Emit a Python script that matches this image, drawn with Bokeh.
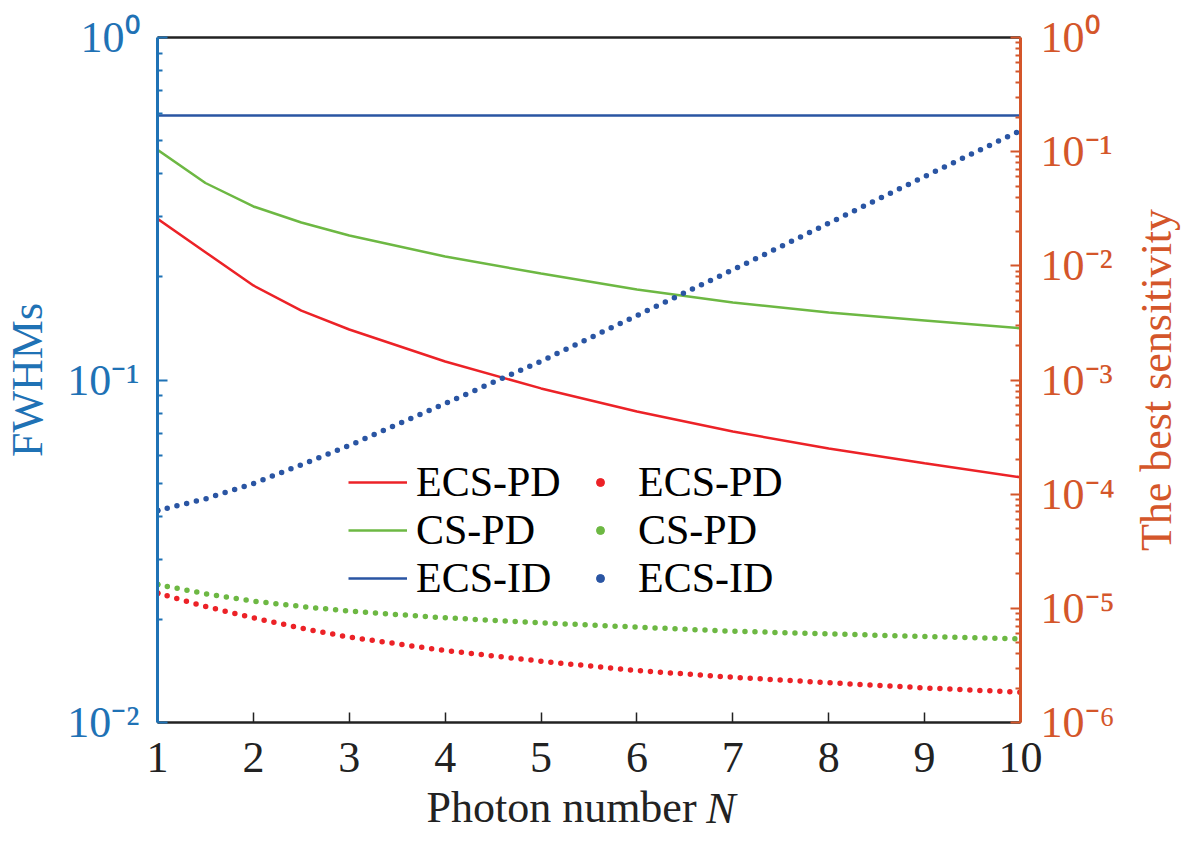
import math
from bokeh.plotting import figure
from bokeh.layouts import row
from bokeh.models import (Range1d, LogScale, LogAxis, LinearAxis, FixedTicker,
                          Legend, LegendItem, Label)
from bokeh.embed import file_html
from bokeh.resources import INLINE

# ---------------- data ----------------
photon_n = [1, 1.5, 2, 2.5, 3, 4, 5, 6, 7, 8, 9, 10]

# FWHMs (left axis)
fwhm_ecs_pd = [0.2956, 0.2361, 0.1888, 0.1595, 0.1404, 0.1132, 0.0945, 0.0809, 0.0707, 0.0631, 0.0571, 0.0520]
fwhm_cs_pd = [0.4700, 0.3760, 0.3211, 0.2884, 0.2642, 0.2294, 0.2046, 0.1837, 0.1683, 0.1574, 0.1492, 0.1416]
fwhm_ecs_id = [0.592, 0.592, 0.592, 0.592, 0.592, 0.592, 0.592, 0.592, 0.592, 0.592, 0.592, 0.592]

# best sensitivity (right axis)
sens_ecs_pd = [1.357e-5, 1.038e-5, 8.26e-6, 6.70e-6, 5.59e-6, 4.27e-6, 3.44e-6, 2.85e-6, 2.49e-6, 2.23e-6, 2.01e-6, 1.84e-6]
sens_cs_pd = [1.617e-5, 1.341e-5, 1.155e-5, 1.038e-5, 9.44e-6, 8.26e-6, 7.47e-6, 6.84e-6, 6.30e-6, 5.98e-6, 5.66e-6, 5.41e-6]
sens_ecs_id = [7.19e-5, 9.10e-5, 1.240e-4, 1.808e-4, 2.668e-4, 6.223e-4, 1.461e-3, 3.672e-3, 9.23e-3, 2.362e-2, 6.06e-2, 0.1532]

series_labels = ["ECS-PD", "CS-PD", "ECS-ID"]
x_ticks = [1, 2, 3, 4, 5, 6, 7, 8, 9, 10]
left_ticks = [1e-2, 1e-1, 1.0]
left_tick_labels = ["10\u207b\u00b2", "10\u207b\u00b9", "10\u2070"]
right_ticks = [1e-6, 1e-5, 1e-4, 1e-3, 1e-2, 1e-1, 1.0]
right_tick_labels = ["10\u207b\u2076", "10\u207b\u2075", "10\u207b\u2074", "10\u207b\u00b3",
                     "10\u207b\u00b2", "10\u207b\u00b9", "10\u2070"]
x_title = "Photon number"
x_title_var = "N"
left_title = "FWHMs"
right_title = "The best sensitivity"

# ---------------- style ----------------
FONT = "'Liberation Serif', serif"
FS = "44px"
LFS = "42px"
RED = "#EC2227"
GREEN = "#6DB843"
BLUE = "#2A55A3"
LEFT_C = "#1F72B5"
RIGHT_C = "#D4562A"
INK = "#222222"
NBSP = "\u00a0"

W_TOTAL = 1182
W_MAIN = 1117
W_RIGHT = W_TOTAL - W_MAIN
FRAME_L, FRAME_R, FRAME_T, FRAME_B = 154, 1020, 37, 722
H = 842

p = figure(width=W_MAIN, height=H, output_backend="svg", toolbar_location=None,
           x_range=Range1d(1, 10), y_range=Range1d(1e-2, 1.0),
           y_axis_type="log", y_axis_location="left",
           min_border_left=FRAME_L, min_border_right=W_MAIN - FRAME_R,
           min_border_top=FRAME_T, min_border_bottom=H - FRAME_B)
p.extra_y_ranges = {"sens": Range1d(1e-6, 1.0)}
p.extra_y_scales = {"sens": LogScale()}
p.grid.visible = False
p.outline_line_color = None
p.background_fill_color = "white"
p.border_fill_color = "white"

# x axis (bottom) -- title in roman, padded so it sits left of the italic N
xa = p.xaxis[0]
xa.ticker = FixedTicker(ticks=x_ticks)
xa.major_label_text_font = FONT
xa.major_label_text_font_size = FS
xa.major_label_text_color = INK
xa.axis_line_color = INK
xa.axis_line_width = 2.5
xa.major_tick_line_color = INK
xa.major_tick_line_width = 1.5
xa.major_tick_in = 10
xa.major_tick_out = 0
xa.minor_tick_line_color = None
xa.major_label_standoff = 20
xa.axis_label = x_title + NBSP * 5
xa.axis_label_text_font = FONT
xa.axis_label_text_font_size = FS
xa.axis_label_text_font_style = "normal"
xa.axis_label_text_color = INK
xa.axis_label_standoff = 8

# second (bare) bottom axis carrying the italic N on the same row
xb = LinearAxis(ticker=FixedTicker(ticks=[]))
xb.axis_line_color = None
xb.major_tick_line_color = None
xb.minor_tick_line_color = None
xb.major_label_text_font_size = "0px"
xb.major_label_standoff = 0
xb.axis_label = NBSP * 24 + x_title_var
xb.axis_label_text_font = FONT
xb.axis_label_text_font_size = FS
xb.axis_label_text_font_style = "italic"
xb.axis_label_text_color = INK
xb.axis_label_standoff = -51
p.add_layout(xb, "below")

# left axis
ya = p.yaxis[0]
left_minor = [k * 10.0 ** e for e in (-2, -1) for k in range(2, 10)]
ya.ticker = FixedTicker(ticks=left_ticks, minor_ticks=left_minor)
ya.major_label_overrides = dict(zip(left_ticks, left_tick_labels))
ya.major_label_text_font = FONT
ya.major_label_text_font_size = FS
ya.major_label_text_color = LEFT_C
ya.axis_line_color = LEFT_C
ya.axis_line_width = 3
ya.major_tick_line_color = LEFT_C
ya.major_tick_line_width = 2
ya.major_tick_in = 10
ya.major_tick_out = 0
ya.minor_tick_line_color = LEFT_C
ya.minor_tick_line_width = 2
ya.minor_tick_in = 5
ya.minor_tick_out = 0
ya.major_label_standoff = 18
ya.axis_label = left_title
ya.axis_label_text_font = FONT
ya.axis_label_text_font_size = FS
ya.axis_label_text_font_style = "normal"
ya.axis_label_text_color = LEFT_C
ya.axis_label_standoff = 12

# right axis
right_minor = [k * 10.0 ** e for e in range(-6, 0) for k in range(2, 10)]
ra = LogAxis(y_range_name="sens",
             ticker=FixedTicker(ticks=right_ticks, minor_ticks=right_minor))
ra.major_label_overrides = dict(zip(right_ticks, right_tick_labels))
ra.major_label_text_font = FONT
ra.major_label_text_font_size = FS
ra.major_label_text_color = RIGHT_C
ra.axis_line_color = RIGHT_C
ra.axis_line_width = 3
ra.major_tick_line_color = RIGHT_C
ra.major_tick_line_width = 2
ra.major_tick_in = 10
ra.major_tick_out = 0
ra.minor_tick_line_color = RIGHT_C
ra.minor_tick_line_width = 2
ra.minor_tick_in = 5
ra.minor_tick_out = 0
ra.major_label_standoff = 20
p.add_layout(ra, "right")

# top box line
ta = LinearAxis(ticker=FixedTicker(ticks=[]))
ta.axis_line_color = INK
ta.axis_line_width = 2.5
ta.major_tick_line_color = None
ta.minor_tick_line_color = None
ta.major_label_text_font_size = "0px"
p.add_layout(ta, "above")

# ---------------- curves ----------------
fwhm_series = [fwhm_ecs_pd, fwhm_cs_pd, fwhm_ecs_id]
sens_series = [sens_ecs_pd, sens_cs_pd, sens_ecs_id]
colors = [RED, GREEN, BLUE]

solid_r = []
dot_r = []
for vals, c in zip(fwhm_series, colors):
    solid_r.append(p.line(photon_n, vals, line_color=c, line_width=2.5))
for vals, c in zip(sens_series, colors):
    p.line(photon_n, vals, y_range_name="sens", line_color=c, line_width=5.5,
           line_dash="0 10", line_cap="round")
    # a dot at the first sample, used as the legend symbol
    dot_r.append(p.scatter(x=photon_n[:1], y=vals[:1], y_range_name="sens", marker="circle",
                           size=5.5, fill_color=c, line_color=c))

# ---------------- legends ----------------
def make_legend(items, loc, gw, standoff):
    return Legend(items=items, location=loc, orientation="vertical",
                  label_text_font=FONT, label_text_font_size=LFS,
                  label_text_color="black", glyph_width=gw, glyph_height=20,
                  label_standoff=standoff, padding=0, margin=0, spacing=0,
                  border_line_color=None, background_fill_alpha=0)

leg1 = make_legend([LegendItem(label=l, renderers=[r]) for l, r in zip(series_labels, solid_r)],
                   (191, 120), 59, 9)
leg2 = make_legend([LegendItem(label=l, renderers=[r]) for l, r in zip(series_labels, dot_r)],
                   (433, 120), 20, 28)
p.add_layout(leg1)
p.add_layout(leg2)

# ---------------- right title strip (text reads bottom to top) ----------------
pr = figure(width=W_RIGHT, height=H, output_backend="svg", toolbar_location=None,
            x_range=Range1d(0, 1), y_range=Range1d(0, 1),
            x_axis_type=None, y_axis_type=None,
            min_border_left=0, min_border_right=0,
            min_border_top=FRAME_T, min_border_bottom=H - FRAME_B)
pr.grid.visible = False
pr.outline_line_color = None
pr.border_fill_color = "white"
pr.add_layout(Label(x=1156 - W_MAIN, y=(FRAME_B - FRAME_T) / 2, x_units="screen", y_units="screen",
                    text=right_title, angle=math.pi / 2, angle_units="rad",
                    text_align="center", text_baseline="alphabetic",
                    text_font=FONT, text_font_size=FS, text_color=RIGHT_C))

layout = row(p, pr, spacing=0)
open("out.html", "w").write(file_html(layout, INLINE))
